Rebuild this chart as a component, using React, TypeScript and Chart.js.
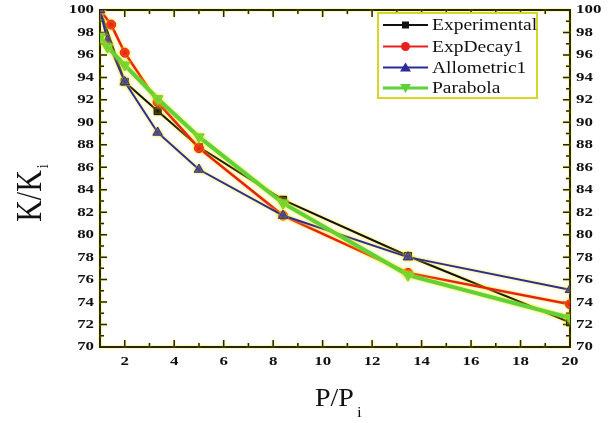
import React, { useEffect, useRef } from 'react';
import { Chart, registerables } from 'chart.js';
Chart.register(...registerables);

const seriesNames = ['Experimental', 'ExpDecay1', 'Allometric1', 'Parabola'];
const expX = [1, 2, 3.33, 5, 8.4, 13.45, 20];
const expY = [100, 93.6, 91.0, 87.8, 83.1, 78.1, 72.2];
const decayX = [1, 1.45, 2, 3.33, 5, 8.4, 13.45, 20];
const decayY = [100, 98.7, 96.2, 91.8, 87.7, 81.7, 76.6, 73.8];
const alloX = [1, 1.3, 2, 3.33, 5, 8.4, 13.45, 20];
const alloY = [100, 97.3, 93.6, 89.1, 85.8, 81.7, 78.0, 75.1];
const paraX = [1, 1.3, 2, 3.33, 5, 8.4, 13.45, 20];
const paraY = [97.6, 96.7, 95.1, 92.1, 88.7, 82.8, 76.4, 72.6];
const xTicks = [2, 4, 6, 8, 10, 12, 14, 16, 18, 20];
const yTicks = [70, 72, 74, 76, 78, 80, 82, 84, 86, 88, 90, 92, 94, 96, 98, 100];

const colors = ['#111111', '#e8201c', '#2b2b9a', '#5fd13a'];
const styles = ['rect', 'circle', 'triangle', 'triangle'];
const FRAME = '#26260a';
const SX = 1.25;
const SERIF = '"Liberation Serif", "Times New Roman", serif';

function pts(xs: number[], ys: number[]) {
  return xs.map((x, i) => ({ x, y: ys[i] }));
}

function sText(ctx: CanvasRenderingContext2D, t: string, x: number, y: number, align: CanvasTextAlign, sx: number) {
  ctx.save();
  ctx.translate(x, y);
  ctx.scale(sx, 1);
  ctx.textAlign = align;
  ctx.fillText(t, 0, 0);
  ctx.restore();
}

const glowPlugin = {
  id: 'glow',
  beforeDatasetDraw(chart: any) {
    const ctx = chart.ctx;
    ctx.save();
    ctx.shadowColor = 'rgba(250,230,0,0.95)';
    ctx.shadowBlur = 3;
  },
  afterDatasetDraw(chart: any) {
    chart.ctx.restore();
  },
};

const framePlugin = {
  id: 'frame',
  beforeDatasetsDraw(chart: any) {
    const ctx = chart.ctx;
    const a = chart.chartArea;
    const xs = chart.scales.x;
    const ys = chart.scales.y;
    ctx.save();
    ctx.shadowColor = 'rgba(240,230,0,0.9)';
    ctx.shadowBlur = 2;
    ctx.strokeStyle = FRAME;
    ctx.lineWidth = 2;
    ctx.strokeRect(a.left, a.top, a.right - a.left, a.bottom - a.top);
    ctx.lineWidth = 1.5;
    ctx.beginPath();
    for (let v = 71; v < 100; v++) {
      const p = ys.getPixelForValue(v);
      const L = v % 2 === 0 ? 7 : 4;
      ctx.moveTo(a.left, p); ctx.lineTo(a.left + L, p);
      ctx.moveTo(a.right, p); ctx.lineTo(a.right - L, p);
    }
    for (let v = 2; v < 20; v++) {
      const p = xs.getPixelForValue(v);
      const L = v % 2 === 0 ? 7 : 4;
      ctx.moveTo(p, a.bottom); ctx.lineTo(p, a.bottom - L);
      ctx.moveTo(p, a.top); ctx.lineTo(p, a.top + L);
    }
    ctx.stroke();
    ctx.restore();
  },
  afterDraw(chart: any) {
    const ctx = chart.ctx;
    const a = chart.chartArea;
    const xs = chart.scales.x;
    const ys = chart.scales.y;
    ctx.save();
    ctx.fillStyle = '#111';
    ctx.textBaseline = 'middle';
    ctx.font = 'bold 13.5px ' + SERIF;
    yTicks.forEach((v) => {
      const p = ys.getPixelForValue(v);
      sText(ctx, String(v), a.left - 6, p, 'right', SX);
      sText(ctx, String(v), a.right + 6, p, 'left', SX);
    });
    xTicks.forEach((v) => {
      const p = xs.getPixelForValue(v);
      sText(ctx, String(v), p, a.bottom + 15, 'center', SX);
    });
    // x title
    ctx.textBaseline = 'alphabetic';
    ctx.font = '25px ' + SERIF;
    const w1 = ctx.measureText('P/P').width * 1.12;
    sText(ctx, 'P/P', 315, 406, 'left', 1.12);
    ctx.font = '15px ' + SERIF;
    sText(ctx, 'i', 315 + w1 + 3, 417, 'left', 1.12);
    // y title
    ctx.save();
    ctx.translate(41, 192);
    ctx.rotate(-Math.PI / 2);
    ctx.scale(1, 1.2);
    ctx.font = '30px ' + SERIF;
    const w2 = ctx.measureText('K/K').width;
    ctx.textAlign = 'left';
    ctx.fillText('K/K', -w2 / 2 - 4, 0);
    ctx.font = '14px ' + SERIF;
    ctx.fillText('i', -w2 / 2 - 2 + w2, 6);
    ctx.restore();
    // legend
    const bx = 378, by = 13, bw = 159, bh = 85;
    ctx.fillStyle = '#fff';
    ctx.fillRect(bx, by, bw, bh);
    ctx.strokeStyle = '#d6d626';
    ctx.lineWidth = 2;
    ctx.strokeRect(bx, by, bw, bh);
    const rows = [25, 46.5, 67.5, 88];
    seriesNames.forEach((n, i) => {
      const y = rows[i];
      ctx.strokeStyle = colors[i];
      ctx.fillStyle = colors[i];
      ctx.lineWidth = i === 3 ? 3 : 2;
      ctx.beginPath();
      ctx.moveTo(383, y); ctx.lineTo(428, y);
      ctx.stroke();
      const cx = 405.5;
      ctx.beginPath();
      if (i === 0) {
        ctx.rect(cx - 3.5, y - 3.5, 7, 7);
      } else if (i === 1) {
        ctx.arc(cx, y, 4.5, 0, Math.PI * 2);
      } else if (i === 2) {
        ctx.moveTo(cx, y - 5); ctx.lineTo(cx + 5.5, y + 4); ctx.lineTo(cx - 5.5, y + 4); ctx.closePath();
      } else {
        ctx.moveTo(cx, y + 5); ctx.lineTo(cx + 5.5, y - 4); ctx.lineTo(cx - 5.5, y - 4); ctx.closePath();
      }
      ctx.fill();
      ctx.fillStyle = '#111';
      ctx.font = '16px ' + SERIF;
      ctx.textBaseline = 'middle';
      sText(ctx, n, 432, y + 1, 'left', 1.22);
    });
    ctx.restore();
  },
};

export default function App() {
  const ref = useRef<HTMLCanvasElement>(null);
  useEffect(() => {
    document.body.style.margin = '0';
    const xsArr = [expX, decayX, alloX, paraX];
    const ysArr = [expY, decayY, alloY, paraY];
    const widths = [2, 2.5, 2, 4];
    const radii = [5, 4.5, 5.5, 6];
    const orders = [3, 2, 1, 0];
    const datasets = seriesNames.map((n, i) => ({
      label: n,
      data: pts(xsArr[i], ysArr[i]),
      borderColor: colors[i],
      backgroundColor: colors[i],
      borderWidth: widths[i],
      pointStyle: styles[i] as any,
      pointRotation: i === 3 ? 180 : 0,
      pointRadius: radii[i],
      pointBorderWidth: 1,
      tension: 0,
      order: orders[i],
    }));
    const chart = new Chart(ref.current!, {
      type: 'line',
      data: { datasets },
      options: {
        animation: false,
        responsive: false,
        maintainAspectRatio: false,
        layout: { padding: { top: 10, left: 0, right: 0, bottom: 0 } },
        plugins: { legend: { display: false }, tooltip: { enabled: false } },
        scales: {
          x: {
            type: 'linear', min: 1, max: 20,
            grid: { display: false }, border: { display: false },
            ticks: { display: false },
            afterFit: (s: any) => { s.height = 76; },
          },
          y: {
            type: 'linear', min: 70, max: 100, position: 'left',
            grid: { display: false }, border: { display: false },
            ticks: { display: false },
            afterFit: (s: any) => { s.width = 100; },
          },
          y2: {
            type: 'linear', min: 70, max: 100, position: 'right',
            grid: { display: false }, border: { display: false },
            ticks: { display: false },
            afterFit: (s: any) => { s.width = 41; },
          },
        },
      },
      plugins: [glowPlugin, framePlugin],
    });
    return () => chart.destroy();
  }, []);
  return (
    <div style={{ width: 611, height: 423, background: '#fff' }}>
      <canvas ref={ref} width={611} height={423} style={{ display: 'block' }} />
    </div>
  );
}
